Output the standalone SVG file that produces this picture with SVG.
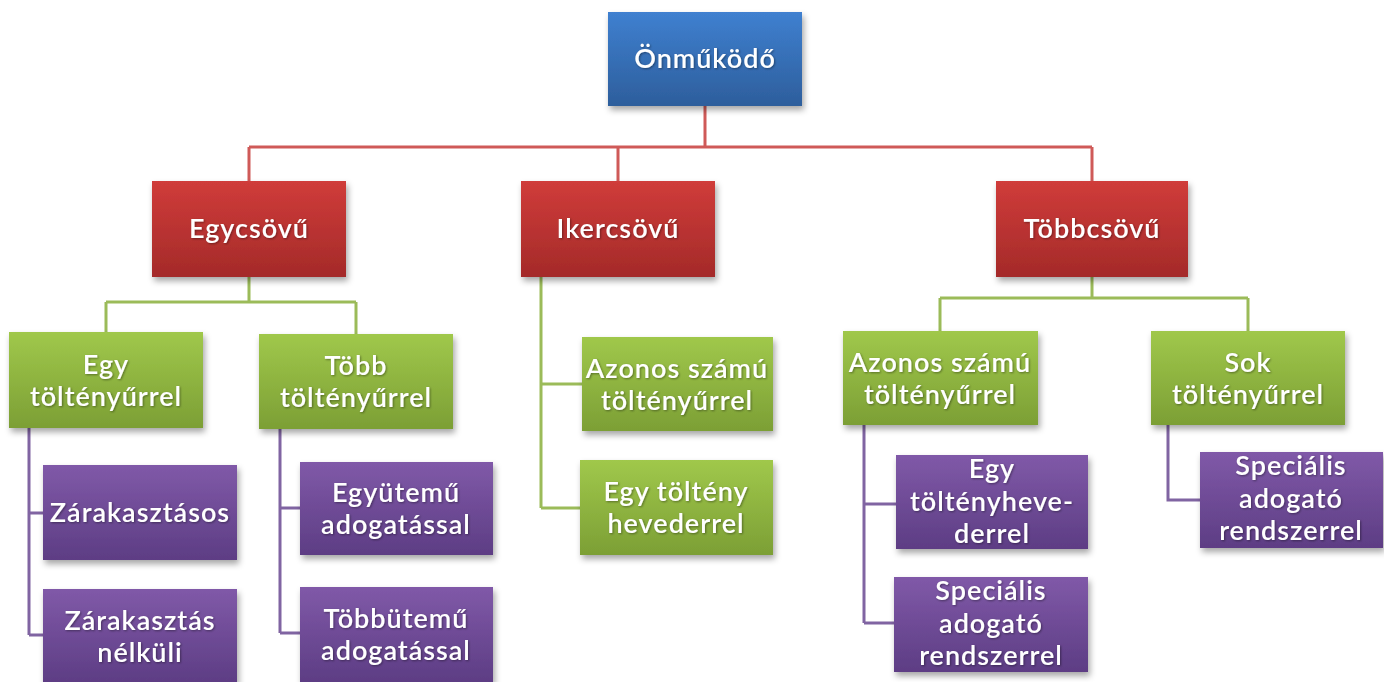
<svg xmlns="http://www.w3.org/2000/svg" width="1384" height="682" viewBox="0 0 1384 682">
<defs>
<linearGradient id="gBlue" x1="0" y1="0" x2="0" y2="1"><stop offset="0" stop-color="#3f80d0"/><stop offset="1" stop-color="#2d5e9c"/></linearGradient>
<linearGradient id="gRed" x1="0" y1="0" x2="0" y2="1"><stop offset="0" stop-color="#d03c3a"/><stop offset="1" stop-color="#a42a29"/></linearGradient>
<linearGradient id="gGreen" x1="0" y1="0" x2="0" y2="1"><stop offset="0" stop-color="#a0c84b"/><stop offset="1" stop-color="#7c9f35"/></linearGradient>
<linearGradient id="gPurple" x1="0" y1="0" x2="0" y2="1"><stop offset="0" stop-color="#8059a8"/><stop offset="1" stop-color="#5d3d84"/></linearGradient>
<filter id="sh" x="-10%" y="-10%" width="125%" height="130%"><feDropShadow dx="2" dy="4" stdDeviation="3" flood-color="#000" flood-opacity="0.35"/></filter>
<filter id="tsh" x="-10%" y="-20%" width="120%" height="140%"><feDropShadow dx="1" dy="1" stdDeviation="0.8" flood-color="#000" flood-opacity="0.4"/></filter>
</defs>
<style>
.b{fill:url(#gBlue);filter:url(#sh)}
.r{fill:url(#gRed);filter:url(#sh)}
.g{fill:url(#gGreen);filter:url(#sh)}
.p{fill:url(#gPurple);filter:url(#sh)}
text{font-family:Lato,"Open Sans","Liberation Sans",sans-serif;font-size:27px;fill:#fff;text-anchor:middle;filter:url(#tsh);font-weight:600;letter-spacing:1px}
.cr{stroke:#cf5a58;stroke-width:3;fill:none}
.cg{stroke:#9bbb59;stroke-width:3;fill:none}
.cp{stroke:#8064a2;stroke-width:3;fill:none}
</style>
<rect width="1384" height="682" fill="#fff"/>
<g id="connectors">
<path class="cr" d="M705,106V147M249,147H1092M249,147V181M618,147V181M1092,147V181"/>
<path class="cg" d="M249,277V302M106,302H356M106,302V332M356,302V334M541,277V508M541,384H582M541,508H580M1092,277V298M940,298H1248M940,298V331M1248,298V331"/>
<path class="cp" d="M29,428V635M29,513H43M29,635H43M280,429V633M280,508H300M280,633H300M864,425V623M864,504H896M864,623H894M1168,425V500H1200"/>
</g>
<g id="n-onmukodo"><rect class="b" x="608" y="12" width="194" height="94"/><text x="705" y="68">Önműködő</text></g>
<g id="n-egycsovu"><rect class="r" x="152" y="181" width="194" height="96"/><text x="249" y="238">Egycsövű</text></g>
<g id="n-ikercsovu"><rect class="r" x="521" y="181" width="194" height="96"/><text x="618" y="238">Ikercsövű</text></g>
<g id="n-tobbcsovu"><rect class="r" x="996" y="181" width="192" height="96"/><text x="1092" y="238">Többcsövű</text></g>
<g id="n-egy-tu"><rect class="g" x="9" y="332" width="194" height="96"/><text x="106" y="374">Egy</text><text x="106" y="406">töltényűrrel</text></g>
<g id="n-tobb-tu"><rect class="g" x="259" y="334" width="194" height="95"/><text x="356" y="375">Több</text><text x="356" y="407">töltényűrrel</text></g>
<g id="n-azonos1"><rect class="g" x="582" y="337" width="191" height="94"/><text x="677" y="378">Azonos számú</text><text x="677" y="410">töltényűrrel</text></g>
<g id="n-hevederrel"><rect class="g" x="580" y="460" width="193" height="95"/><text x="676" y="501">Egy töltény</text><text x="676" y="533">hevederrel</text></g>
<g id="n-azonos2"><rect class="g" x="843" y="331" width="195" height="94"/><text x="940" y="372">Azonos számú</text><text x="940" y="404">töltényűrrel</text></g>
<g id="n-sok"><rect class="g" x="1151" y="331" width="194" height="94"/><text x="1248" y="372">Sok</text><text x="1248" y="404">töltényűrrel</text></g>
<g id="n-zarak"><rect class="p" x="43" y="465" width="194" height="95"/><text x="140" y="522">Zárakasztásos</text></g>
<g id="n-zarak-nelk"><rect class="p" x="43" y="589" width="194" height="94"/><text x="140" y="630">Zárakasztás</text><text x="140" y="662">nélküli</text></g>
<g id="n-egyutemu"><rect class="p" x="300" y="462" width="193" height="93"/><text x="396" y="502">Együtemű</text><text x="396" y="534">adogatással</text></g>
<g id="n-tobbutemu"><rect class="p" x="300" y="587" width="193" height="95"/><text x="396" y="628">Többütemű</text><text x="396" y="660">adogatással</text></g>
<g id="n-egy-tolt-hev"><rect class="p" x="896" y="455" width="192" height="94"/><text x="992" y="478">Egy</text><text x="992" y="511">töltényheve-</text><text x="992" y="543">derrel</text></g>
<g id="n-spec1"><rect class="p" x="894" y="577" width="194" height="95"/><text x="991" y="600">Speciális</text><text x="991" y="633">adogató</text><text x="991" y="665">rendszerrel</text></g>
<g id="n-spec2"><rect class="p" x="1200" y="452" width="183" height="96"/><text x="1291" y="475">Speciális</text><text x="1291" y="508">adogató</text><text x="1291" y="540">rendszerrel</text></g>
</svg>
